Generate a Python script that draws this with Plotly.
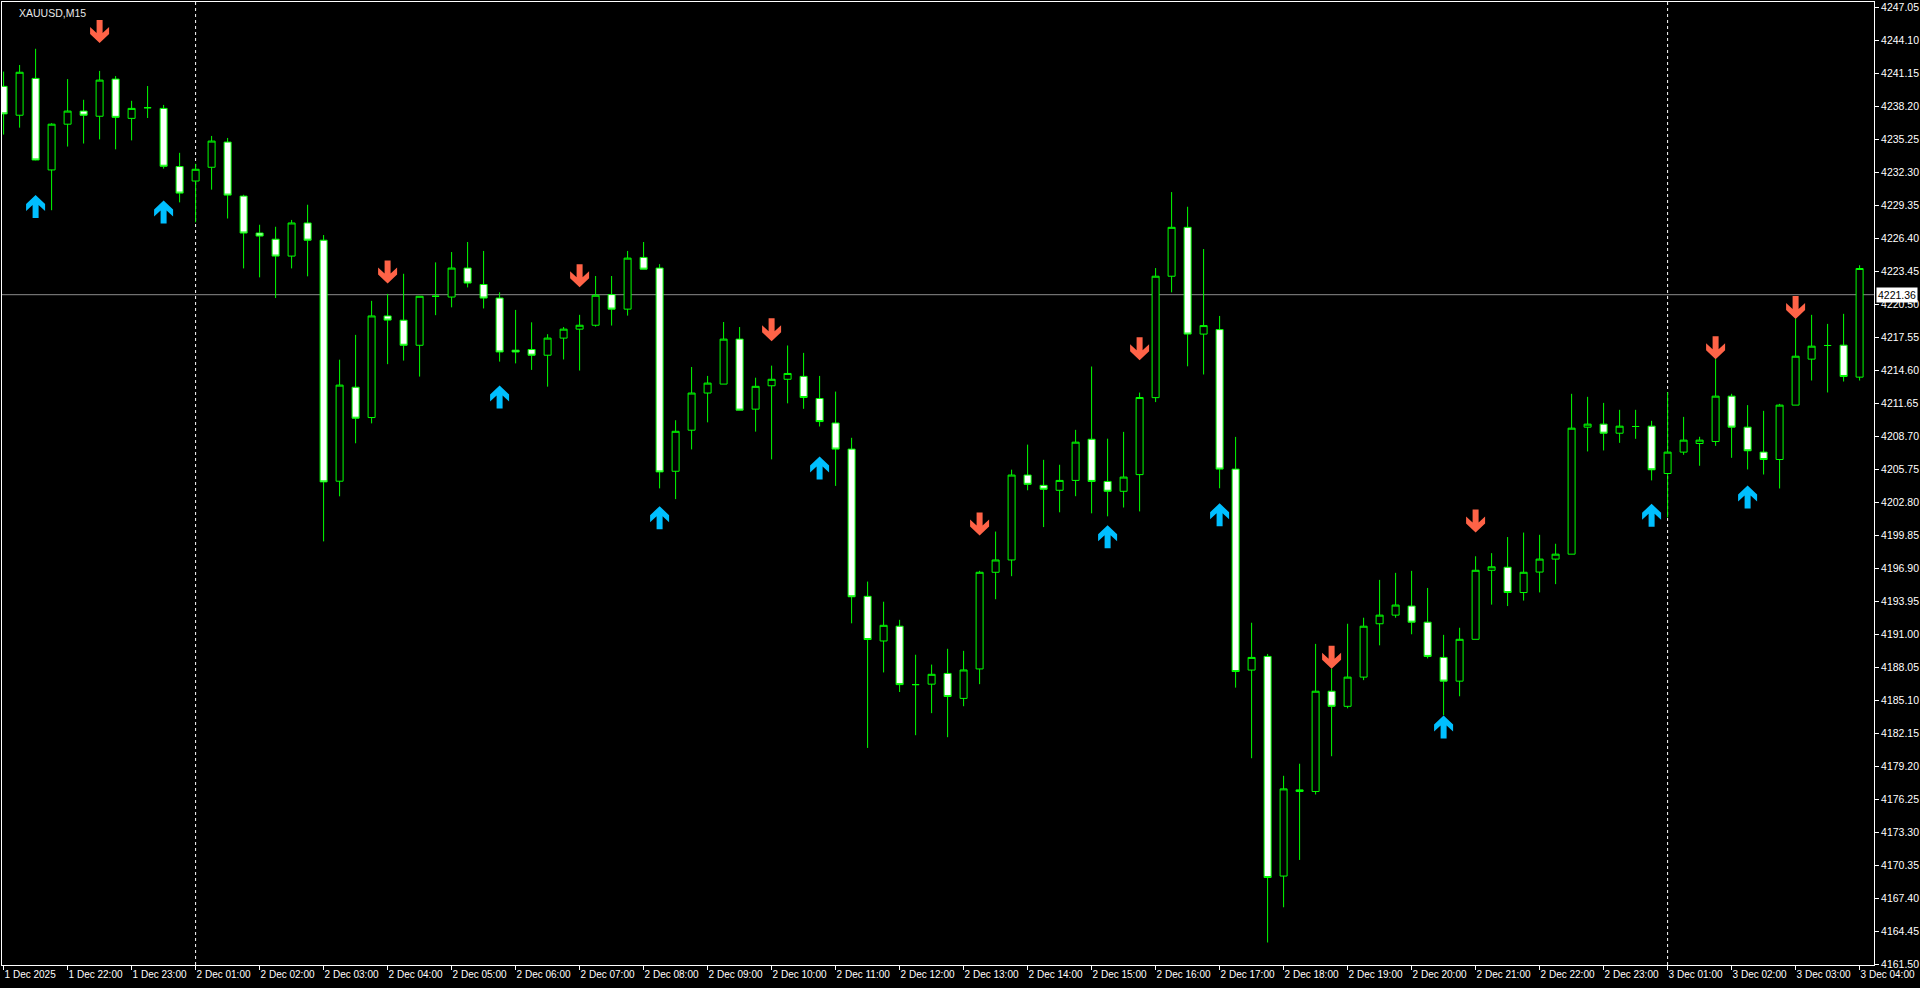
import pandas as pd
import plotly.graph_objects as go

# ---------------- data ----------------
symbol_title = "XAUUSD,M15"

# 15-minute bars (gold market pauses 00:00-01:00)
bar_times = (
    list(pd.date_range("2025-12-01 21:00", periods=12, freq="15min"))
    + list(pd.date_range("2025-12-02 01:00", periods=92, freq="15min"))
    + list(pd.date_range("2025-12-03 01:00", periods=13, freq="15min"))
)
times = [t.strftime("%Y-%m-%d %H:%M") for t in bar_times]

opens = [
    4239.98, 4237.40, 4240.69, 4232.51, 4236.60, 4237.77, 4237.31, 4240.63, 4237.12, 4238.07,
    4238.01, 4232.81, 4231.52, 4232.75, 4235.00, 4230.17, 4226.87, 4226.32, 4224.81, 4227.77,
    4226.23, 4204.69, 4213.09, 4210.38, 4219.46, 4219.08, 4216.84, 4221.22, 4221.15, 4223.74,
    4222.27, 4221.06, 4216.40, 4216.46, 4215.95, 4217.48, 4218.28, 4218.63, 4221.37, 4220.07,
    4224.69, 4223.74, 4205.58, 4209.25, 4212.57, 4213.37, 4217.39, 4211.13, 4213.22, 4213.80,
    4214.06, 4212.08, 4209.89, 4207.56, 4194.40, 4190.41, 4191.73, 4186.51, 4186.55, 4187.51,
    4185.28, 4187.91, 4196.55, 4197.65, 4205.24, 4204.32, 4203.88, 4204.76, 4208.44, 4204.67,
    4203.79, 4205.28, 4212.16, 4223.01, 4227.38, 4217.84, 4218.24, 4205.77, 4187.81, 4189.03,
    4169.40, 4176.96, 4176.96, 4185.92, 4184.57, 4187.18, 4191.95, 4192.72, 4193.53, 4192.09,
    4188.94, 4186.82, 4190.56, 4196.73, 4197.00, 4194.74, 4196.57, 4197.73, 4198.17, 4209.52,
    4209.79, 4208.98, 4209.58, 4209.61, 4205.38, 4207.29, 4208.06, 4208.24, 4212.29, 4209.52,
    4207.29, 4206.63, 4211.49, 4215.60, 4216.82, 4216.85, 4213.99,
]
highs = [
    4241.30, 4241.89, 4243.34, 4236.69, 4240.63, 4238.78, 4241.36, 4240.90, 4238.69, 4240.01,
    4238.32, 4234.04, 4233.06, 4235.55, 4235.37, 4230.29, 4227.61, 4227.43, 4228.04, 4229.40,
    4226.69, 4215.55, 4217.77, 4220.81, 4221.43, 4223.23, 4221.22, 4224.25, 4225.17, 4226.07,
    4225.27, 4221.57, 4220.00, 4218.89, 4217.83, 4218.47, 4219.56, 4223.03, 4223.03, 4225.27,
    4226.07, 4224.09, 4210.14, 4214.90, 4214.10, 4218.92, 4218.47, 4213.94, 4215.02, 4216.82,
    4216.16, 4214.10, 4212.70, 4208.57, 4195.72, 4193.92, 4192.30, 4189.18, 4188.30, 4189.71,
    4189.53, 4196.68, 4200.19, 4205.72, 4207.96, 4206.60, 4206.16, 4209.28, 4214.94, 4208.49,
    4209.10, 4212.61, 4223.74, 4230.53, 4229.22, 4225.44, 4219.46, 4208.65, 4192.04, 4189.25,
    4178.36, 4179.44, 4190.15, 4187.95, 4191.95, 4192.49, 4195.87, 4196.50, 4196.68, 4195.15,
    4190.96, 4191.59, 4197.98, 4198.26, 4199.70, 4200.10, 4199.90, 4199.10, 4212.50, 4212.23,
    4211.69, 4211.07, 4211.07, 4210.09, 4212.65, 4210.44, 4208.66, 4215.60, 4212.50, 4211.49,
    4210.98, 4211.60, 4219.23, 4219.56, 4218.75, 4219.65, 4223.99,
]
lows = [
    4235.67, 4236.29, 4233.37, 4228.91, 4234.60, 4234.87, 4235.24, 4234.35, 4235.15, 4237.15,
    4232.63, 4229.61, 4227.83, 4230.75, 4228.17, 4223.71, 4222.91, 4221.06, 4223.71, 4223.00,
    4199.31, 4203.34, 4208.08, 4209.86, 4215.15, 4215.47, 4214.04, 4219.53, 4220.23, 4222.01,
    4220.13, 4215.38, 4215.22, 4214.64, 4213.14, 4215.57, 4214.58, 4218.50, 4218.60, 4219.49,
    4223.64, 4204.05, 4203.09, 4207.53, 4209.95, 4213.37, 4211.04, 4209.12, 4206.64, 4211.65,
    4211.16, 4209.58, 4204.27, 4191.99, 4180.85, 4187.60, 4185.85, 4181.99, 4183.96, 4181.81,
    4184.58, 4186.55, 4194.14, 4196.20, 4203.88, 4200.59, 4201.91, 4203.35, 4201.82, 4201.55,
    4202.34, 4201.99, 4211.76, 4221.57, 4214.96, 4214.23, 4204.06, 4186.24, 4179.93, 4163.46,
    4166.61, 4170.84, 4176.69, 4180.11, 4184.39, 4186.91, 4190.02, 4192.49, 4191.01, 4188.85,
    4183.77, 4185.47, 4190.56, 4193.66, 4193.53, 4194.02, 4194.75, 4195.49, 4198.17, 4207.35,
    4207.44, 4208.12, 4208.48, 4204.76, 4201.45, 4207.05, 4206.07, 4207.85, 4206.78, 4205.74,
    4205.29, 4204.04, 4211.49, 4213.69, 4212.62, 4213.60, 4213.69,
]
closes = [
    4237.52, 4241.24, 4233.40, 4236.60, 4237.77, 4237.40, 4240.54, 4237.21, 4238.01, 4238.07,
    4232.84, 4230.44, 4232.57, 4235.09, 4230.26, 4226.87, 4226.60, 4224.81, 4227.77, 4226.23,
    4204.63, 4213.28, 4210.32, 4219.46, 4219.09, 4216.84, 4221.22, 4221.22, 4223.74, 4222.40,
    4221.06, 4216.24, 4216.24, 4215.95, 4217.48, 4218.28, 4218.63, 4221.31, 4220.07, 4224.63,
    4223.64, 4205.52, 4209.15, 4212.57, 4213.46, 4217.39, 4211.04, 4213.17, 4213.80, 4214.32,
    4212.17, 4210.02, 4207.56, 4194.36, 4190.54, 4191.81, 4186.51, 4186.51, 4187.43, 4185.45,
    4187.82, 4196.55, 4197.65, 4205.24, 4204.41, 4203.97, 4204.76, 4208.18, 4204.67, 4203.79,
    4205.06, 4212.17, 4223.01, 4227.38, 4217.84, 4218.60, 4205.77, 4187.68, 4188.94, 4169.27,
    4177.19, 4177.10, 4185.92, 4184.57, 4187.18, 4191.73, 4192.72, 4193.62, 4192.09, 4189.03,
    4186.82, 4190.56, 4196.73, 4197.04, 4194.74, 4196.55, 4197.73, 4198.17, 4209.43, 4209.79,
    4208.98, 4209.61, 4209.58, 4205.71, 4207.29, 4208.36, 4208.36, 4212.29, 4209.52, 4207.41,
    4206.63, 4211.49, 4215.86, 4216.76, 4216.82, 4214.05, 4223.70,
]

# indicator arrows (price at the arrow tip)
sell_arrow_times = ["2025-12-01 22:30", "2025-12-02 04:00", "2025-12-02 07:00", "2025-12-02 10:00",
                    "2025-12-02 13:15", "2025-12-02 15:45", "2025-12-02 18:45", "2025-12-02 21:00",
                    "2025-12-03 01:45", "2025-12-03 03:00"]
sell_arrow_prices = [4243.86, 4222.37, 4222.02, 4217.19, 4199.84, 4215.50, 4187.93, 4200.10,
                     4215.60, 4219.18]
buy_arrow_times = ["2025-12-01 21:30", "2025-12-01 23:30", "2025-12-02 05:45", "2025-12-02 08:15",
                   "2025-12-02 10:45", "2025-12-02 15:15", "2025-12-02 17:00", "2025-12-02 20:30",
                   "2025-12-02 23:45", "2025-12-03 02:15"]
buy_arrow_prices = [4230.28, 4229.77, 4213.24, 4202.46, 4206.90, 4200.76, 4202.72, 4183.76,
                    4202.67, 4204.31]

day_separators = ["2025-12-02 01:00", "2025-12-03 01:00"]
current_price = 4221.36

x_tick_labels = [
    "1 Dec 2025", "1 Dec 22:00", "1 Dec 23:00",
    "2 Dec 01:00", "2 Dec 02:00", "2 Dec 03:00", "2 Dec 04:00", "2 Dec 05:00", "2 Dec 06:00",
    "2 Dec 07:00", "2 Dec 08:00", "2 Dec 09:00", "2 Dec 10:00", "2 Dec 11:00", "2 Dec 12:00",
    "2 Dec 13:00", "2 Dec 14:00", "2 Dec 15:00", "2 Dec 16:00", "2 Dec 17:00", "2 Dec 18:00",
    "2 Dec 19:00", "2 Dec 20:00", "2 Dec 21:00", "2 Dec 22:00", "2 Dec 23:00",
    "3 Dec 01:00", "3 Dec 02:00", "3 Dec 03:00", "3 Dec 04:00",
]
x_tick_times = times[::4]

y_tick_values = [
    4161.50, 4164.45, 4167.40, 4170.35, 4173.30, 4176.25, 4179.20, 4182.15, 4185.10, 4188.05,
    4191.00, 4193.95, 4196.90, 4199.85, 4202.80, 4205.75, 4208.70, 4211.65, 4214.60, 4217.55,
    4220.50, 4223.45, 4226.40, 4229.35, 4232.30, 4235.25, 4238.20, 4241.15, 4244.10, 4247.05,
]
y_tick_labels = [f"{v:.2f}" for v in y_tick_values]

# ---------------- styling ----------------
FONT = "Liberation Sans"
FONT_SIZE = 10.5
X_FONT_SIZE = 10
GREEN = "#00FF00"
SELL_COLOR = "#FF6347"
BUY_COLOR = "#00BFFF"

fig = go.Figure()
fig.add_trace(go.Candlestick(
    x=times, open=opens, high=highs, low=lows, close=closes,
    increasing=dict(line=dict(color=GREEN, width=1), fillcolor="#000000"),
    decreasing=dict(line=dict(color=GREEN, width=1), fillcolor="#FFFFFF"),
    whiskerwidth=0,
    hoverinfo="x+y",
    showlegend=False,
))

shapes = []
for t in day_separators:
    shapes.append(dict(type="line", xref="x", yref="paper", x0=t, x1=t, y0=0, y1=1,
                       line=dict(color="#FFFFFF", width=1, dash="3px,3px"), layer="below"))
shapes.append(dict(type="line", xref="paper", yref="y", x0=0, x1=1,
                   y0=current_price, y1=current_price,
                   line=dict(color="#8C8C8C", width=1), layer="below"))

pts = [(0, 0), (9.5, 9), (9.5, 16), (3, 10), (3, 23), (-3, 23), (-3, 10), (-9.5, 16), (-9.5, 9)]


def arrow_path(sign):
    return "M" + " L".join(f"{x},{sign * y}" for x, y in pts) + " Z"


for t, p in zip(sell_arrow_times, sell_arrow_prices):
    shapes.append(dict(type="path", xref="x", yref="y", xsizemode="pixel", ysizemode="pixel",
                       xanchor=t, yanchor=p, path=arrow_path(1),
                       fillcolor=SELL_COLOR, line=dict(width=0)))
for t, p in zip(buy_arrow_times, buy_arrow_prices):
    shapes.append(dict(type="path", xref="x", yref="y", xsizemode="pixel", ysizemode="pixel",
                       xanchor=t, yanchor=p, path=arrow_path(-1),
                       fillcolor=BUY_COLOR, line=dict(width=0)))

annotations = [
    dict(text=symbol_title, xref="paper", yref="paper", x=0, y=1, xanchor="left", yanchor="top",
         xshift=15, yshift=-3, showarrow=False,
         font=dict(family=FONT, size=FONT_SIZE, color="#E8E8E8")),
    dict(text=f"{current_price:.2f}", xref="paper", yref="y", x=1, y=current_price,
         xanchor="left", yanchor="middle", xshift=2, showarrow=False, bgcolor="#FFFFFF",
         borderpad=1, font=dict(family=FONT, size=FONT_SIZE, color="#000000")),
]

fig.update_layout(
    width=1920, height=988,
    margin=dict(l=2, r=46, t=2, b=23, pad=0, autoexpand=False),
    paper_bgcolor="#000000", plot_bgcolor="#000000",
    boxgap=0.375,
    shapes=shapes, annotations=annotations,
    showlegend=False,
    font=dict(family=FONT, size=FONT_SIZE, color="#FFFFFF"),
)
fig.update_xaxes(
    type="category", range=[-0.1, 116.9], rangeslider=dict(visible=False),
    showgrid=False, zeroline=False, automargin=False,
    showline=True, linecolor="#FFFFFF", linewidth=1, mirror=True,
    ticks="outside", ticklen=4, tickcolor="#FFFFFF", tickwidth=1,
    tickmode="array", tickvals=x_tick_times, ticktext=x_tick_labels,
    ticklabelposition="outside right", tickangle=0,
    tickfont=dict(family=FONT, size=X_FONT_SIZE, color="#FFFFFF"),
    fixedrange=True,
)
fig.update_yaxes(
    side="right", range=[4161.45, 4247.52],
    showgrid=False, zeroline=False, automargin=False,
    showline=True, linecolor="#FFFFFF", linewidth=1, mirror=True,
    ticks="outside", ticklen=4, tickcolor="#FFFFFF", tickwidth=1,
    tickmode="array", tickvals=y_tick_values, ticktext=y_tick_labels,
    tickfont=dict(family=FONT, size=FONT_SIZE, color="#FFFFFF"),
    fixedrange=True,
)

fig.write_html(
    "out.html",
    config={"displayModeBar": False},
    post_script="document.body.style.margin='0';document.body.style.overflow='hidden';"
                "document.body.style.background='#000';",
)
